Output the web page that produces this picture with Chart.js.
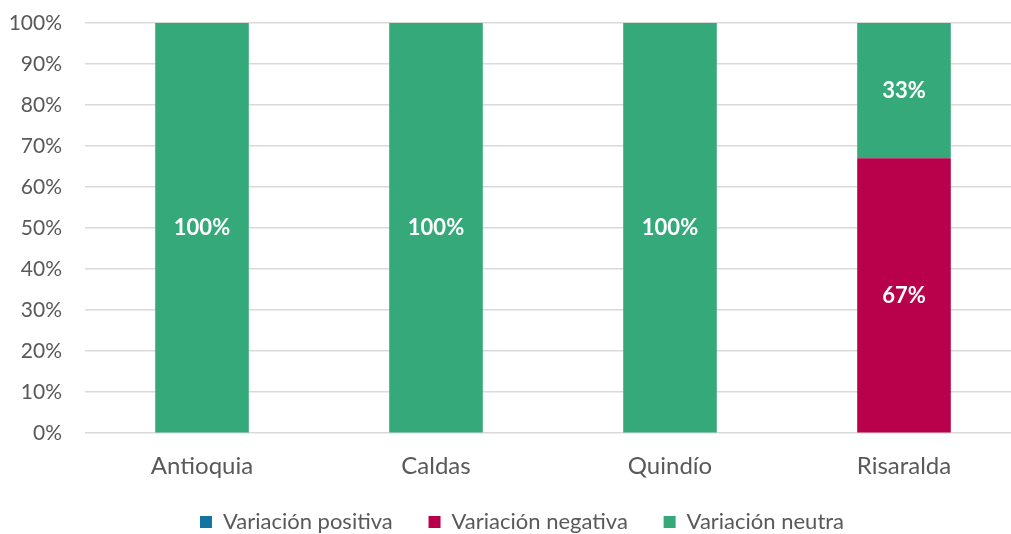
<!DOCTYPE html>
<html>
<head>
<meta charset="utf-8">
<script src="https://cdn.jsdelivr.net/npm/chart.js@4"></script>
<style>
html,body{margin:0;padding:0;background:#fff;}
#wrap{width:1011px;height:534px;}
</style>
</head>
<body>
<div id="wrap"><canvas id="c" width="1011" height="534"></canvas></div>
<script>
const categories = ["Antioquia", "Caldas", "Quindío", "Risaralda"];
const seriesNames = ["Variación positiva", "Variación negativa", "Variación neutra"];
const positiva = [0, 0, 0, 0];
const negativa = [0, 0, 0, 67];
const neutra = [100, 100, 100, 33];
const yTicks = [0, 10, 20, 30, 40, 50, 60, 70, 80, 90, 100];

const colors = ["#1474A0", "#B8004B", "#36A97A"];
const FONT = "Lato, 'Open Sans', sans-serif";

const labelPlugin = {
  id: 'barLabels',
  afterDatasetsDraw(chart) {
    const ctx = chart.ctx;
    ctx.save();
    ctx.fillStyle = '#ffffff';
    ctx.font = "bold 22px " + FONT;
    ctx.textAlign = 'center';
    ctx.textBaseline = 'middle';
    chart.data.datasets.forEach((ds, di) => {
      const meta = chart.getDatasetMeta(di);
      meta.data.forEach((bar, i) => {
        const v = ds.data[i];
        if (!v) return;
        const y = (bar.y + bar.base) / 2;
        ctx.fillText(v + '%', bar.x, y);
      });
    });
    ctx.restore();
  }
};

// Layout tweaks: the plot area in the original runs past the right edge of the picture
const layoutTweak = {
  id: 'layoutTweak',
  afterLayout(chart) {
    const lg = chart.legend;
    if (lg) {
      lg.left += 14;
      lg.top += 3;
      lg.bottom += 3;
    }
    const extra = 10;
    const x = chart.scales.x;
    const ca = chart.chartArea;
    x.right += extra;
    x.width += extra;
    x.configure();
    ca.right += extra;
    ca.width += extra;
  }
};

new Chart(document.getElementById('c'), {
  type: 'bar',
  data: {
    labels: categories,
    datasets: [
      { label: seriesNames[0], data: positiva, backgroundColor: colors[0] },
      { label: seriesNames[1], data: negativa, backgroundColor: colors[1] },
      { label: seriesNames[2], data: neutra, backgroundColor: colors[2] }
    ]
  },
  options: {
    responsive: false,
    animation: false,
    layout: { padding: { left: 0, right: -19, top: 23, bottom: -6 } },
    datasets: { bar: { categoryPercentage: 1, barPercentage: 0.40 } },
    scales: {
      x: {
        stacked: true,
        grid: { display: false, drawTicks: false },
        border: { display: false },
        ticks: { color: '#595959', font: { family: FONT, size: 24 }, padding: 19 }
      },
      y: {
        stacked: true,
        min: 0, max: 100,
        afterBuildTicks(axis) { axis.ticks = yTicks.map(v => ({ value: v })); },
        afterFit(s) { s.width = 85; s.paddingTop = 0; },
        grid: { color: '#D9D9D9', lineWidth: 1.5, drawTicks: false },
        border: { display: false },
        ticks: { color: '#595959', font: { family: FONT, size: 21 }, padding: 23, callback: v => v + '%' }
      }
    },
    plugins: {
      legend: {
        position: 'bottom',
        labels: {
          color: '#595959', font: { family: FONT, size: 22 }, boxWidth: 12, boxHeight: 12, padding: 8,
          generateLabels(chart) {
            const items = Chart.defaults.plugins.legend.labels.generateLabels(chart);
            items.forEach((it, i) => { if (i < items.length - 1) it.text = it.text + '\u2003  '; });
            return items;
          }
        }
      },
      tooltip: { enabled: false }
    }
  },
  plugins: [labelPlugin, layoutTweak]
});
</script>
</body>
</html>
